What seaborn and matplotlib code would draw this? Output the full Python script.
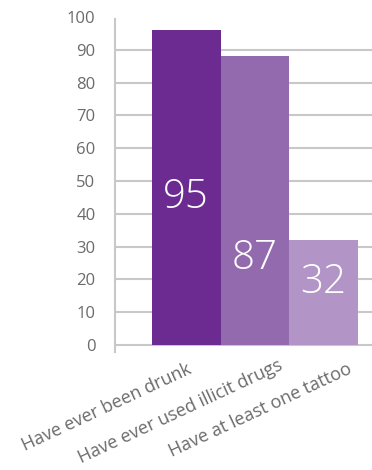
import numpy as np
import pandas as pd
import matplotlib
matplotlib.use('Agg')
import matplotlib.pyplot as plt
import matplotlib.transforms as mtransforms
import seaborn as sns

# data
categories = ['Have ever been drunk', 'Have ever used illicit drugs', 'Have at least one tattoo']
values = [96, 88, 32]
value_labels = ['95', '87', '32']

# styling
bar_colors = ['#6b2b91', '#946aaf', '#b294c7']
label_y = [45, 26.5, 19]
xlabel_shift = [(0.0, 0.0), (0.23, 0.04), (0.24, 0.0)]
GRID = '#c8c8c8'
TXT = '#6b6b6b'

sns.set_theme(style='white')
plt.rcParams['font.family'] = ['Open Sans', 'DejaVu Sans']

df = pd.DataFrame({'cat': categories, 'val': values})

fig = plt.figure(figsize=(3.72, 4.70), dpi=100)
ax = fig.add_axes([0.309, 0.251, 0.691, 0.713])

sns.barplot(data=df, x='cat', y='val', hue='cat', palette=bar_colors,
            width=1.0, legend=False, ax=ax, saturation=1, zorder=3,
            linewidth=0, edgecolor='none')

ax.set_xlim(-1.04, 2.71)
ax.set_ylim(-2.1, 100)
ax.set_yticks(np.arange(0, 101, 10))
ax.yaxis.grid(True, color=GRID, lw=1.5, zorder=0)
ax.set_axisbelow(True)
for sp in ['top', 'right', 'bottom']:
    ax.spines[sp].set_visible(False)
ax.spines['left'].set_color(GRID)
ax.spines['left'].set_linewidth(1.5)
ax.spines['left'].set_bounds(-2.1, 99.4)
ax.tick_params(axis='y', length=10, width=1.5, color=GRID, labelcolor=TXT,
               labelsize=12, pad=4)
ax.tick_params(axis='x', length=0, labelcolor=TXT, labelsize=13, pad=6)
# no gridline / tick line at 100
ax.yaxis.get_gridlines()[-1].set_visible(False)
ax.yaxis.get_major_ticks()[-1].tick1line.set_visible(False)

ax.set_xlabel('')
ax.set_ylabel('')
for lab, (sx, sy) in zip(ax.get_xticklabels(), xlabel_shift):
    lab.set_rotation(25)
    lab.set_ha('right')
    lab.set_rotation_mode('anchor')
    lab.set_transform(lab.get_transform() +
                      mtransforms.ScaledTranslation(sx, sy, fig.dpi_scale_trans))

for i, (t, yy) in enumerate(zip(value_labels, label_y)):
    ax.text(i, yy, t, ha='center', va='center', color='white',
            fontsize=29, fontweight='light', zorder=4)

fig.savefig('out.png', dpi=100, facecolor='white')
